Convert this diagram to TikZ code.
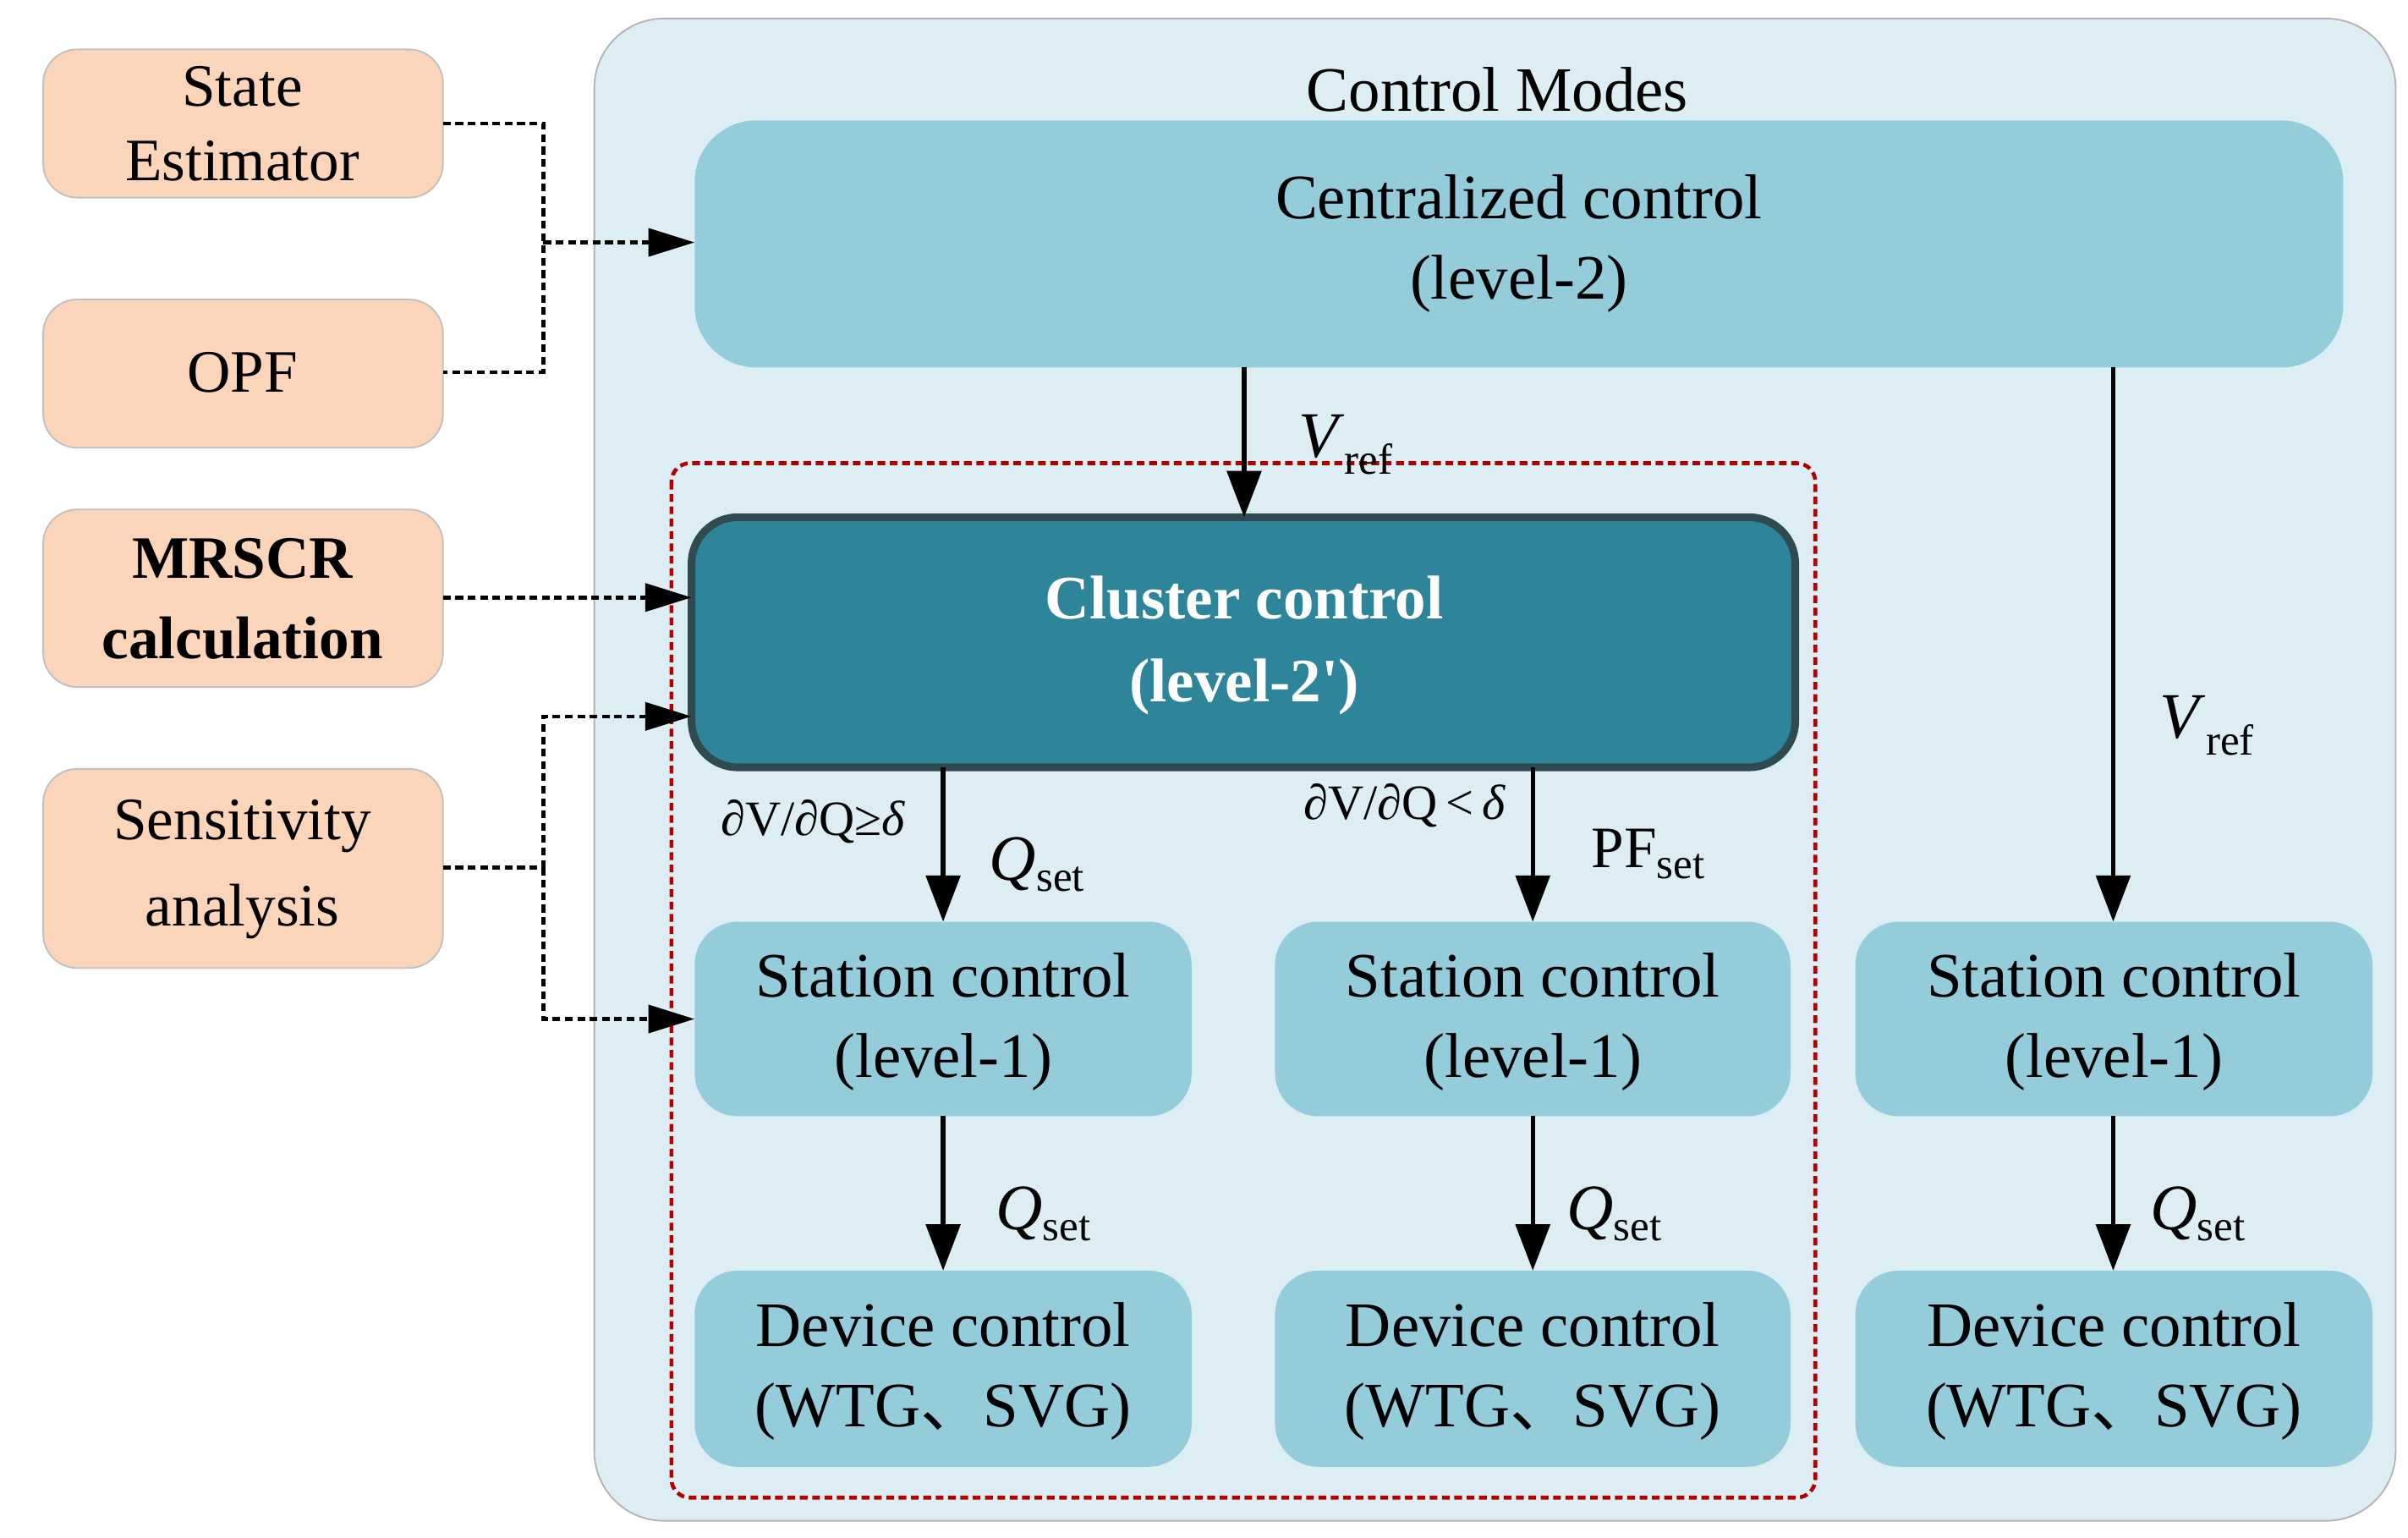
\documentclass[tikz,border=0pt]{standalone}
\usepackage{fontspec}
\setmainfont{Liberation Serif}
\newfontfamily\cjk{Noto Sans CJK SC}
\usetikzlibrary{arrows.meta}
\definecolor{outerbg}{HTML}{DCEEF3}
\definecolor{lb}{HTML}{94CCDA}
\definecolor{dk}{HTML}{2E8499}
\definecolor{dkb}{HTML}{2F4A50}
\definecolor{org}{HTML}{FBD5BA}
\newcommand{\sub}[2]{\textit{#1}\textsubscript{\fontsize{28}{30}\selectfont #2}}
\begin{document}
\begin{tikzpicture}[x=1pt,y=-1pt,
 txt/.style={font=\fontsize{41}{52}\selectfont,align=center},
 box/.style={draw=none,fill=lb,rounded corners=28pt},
 obox/.style={draw=gray!50,fill=org,rounded corners=22pt,line width=1pt},
 arr/.style={line width=3pt,-{Triangle[length=30pt,width=22pt]}},
 dot/.style={line width=2.5pt,dash pattern=on 5pt off 3pt},
 darr/.style={dot,-{Triangle[length=30pt,width=18pt]}},
 lab/.style={font=\fontsize{42}{48}\selectfont}]
\useasboundingbox (0,0) rectangle (1560,996);
\draw[fill=outerbg,draw=gray!60,line width=1pt,rounded corners=45pt] (385,12) rectangle (1552,985);
\node[txt] (cm) at (970,58) {Control Modes};
\draw[box,rounded corners=40pt] (450,78) rectangle (1518,238);
\node[txt] (cen) at (984,158) {Centralized control\\(level-2)};
\draw[red!70!black,line width=2.5pt,dash pattern=on 5pt off 3pt,rounded corners=12pt] (435,300) rectangle (1176,970);
\draw[fill=dk,draw=dkb,line width=5pt,rounded corners=30pt] (448,335) rectangle (1163,497);
\node[txt,text=white,font=\fontsize{40}{54}\selectfont\bfseries] (clu) at (806,418) {Cluster control\\(level-2\textquotesingle)};
% left boxes
\draw[obox] (28,32) rectangle (287,128);
\node[txt,font=\fontsize{39}{48}\selectfont] (se) at (157,80) {State\\Estimator};
\draw[obox] (28,194) rectangle (287,290);
\node[txt,font=\fontsize{39}{48}\selectfont] (opf) at (157,241) {OPF};
\draw[obox] (28,330) rectangle (287,445);
\node[txt,font=\fontsize{39}{52}\selectfont\bfseries] (mr) at (157,388) {MRSCR\\calculation};
\draw[obox] (28,498) rectangle (287,627);
\node[txt,font=\fontsize{39}{56}\selectfont] (sa) at (157,563) {Sensitivity\\analysis};
% stations/devices
\foreach \i/\a/\b in {1/450/772,2/826/1160,3/1202/1537}{
 \draw[box] (\a,597) rectangle (\b,723);
 \node[txt] (st\i) at ({(\a+\b)/2},662) {Station control\\(level-1)};
 \draw[box] (\a,823) rectangle (\b,950);
 \node[txt] (dv\i) at ({(\a+\b)/2},888) {Device control\\(WTG{\cjk 、}SVG)};
}
% arrows
\coordinate (c1) at (806,238); \coordinate (c2) at (806,335);
\draw[arr] (c1) -- (c2);
\node[lab] (v1) at (872,288) {\sub{V}{ref}};
\coordinate (c3) at (1369,238); \coordinate (c4) at (1369,597);
\draw[arr] (c3) -- (c4);
\node[lab] (v2) at (1430,470) {\sub{V}{ref}};
\coordinate (k1) at (611,497); \coordinate (k2) at (611,597);
\draw[arr] (k1) -- (k2);
\coordinate (k3) at (993,497); \coordinate (k4) at (993,597);
\draw[arr] (k3) -- (k4);
\node[font=\fontsize{32}{40}\selectfont] (s1) at (527,532) {∂V/∂Q≥\textit{δ}};
\node[font=\fontsize{32}{40}\selectfont] (s2) at (910,522) {∂V/∂Q\,<\,\textit{δ}};
\node[lab] (q1) at (672,560) {\sub{Q}{set}};
\node[lab,font=\fontsize{38}{48}\selectfont] (pf) at (1068,553) {PF\textsubscript{\fontsize{28}{30}\selectfont set}};
\foreach \x/\lx in {611/676,993/1046,1369/1424}{
 \coordinate (a\x) at (\x,723); \coordinate (b\x) at (\x,823);
 \draw[arr] (a\x) -- (b\x);
 \node[lab] at (\lx,786) {\sub{Q}{set}};
}
% dotted
\coordinate (j1) at (352,157); \coordinate (t1) at (450,157);
\draw[dot] (287,80) -| (j1) |- (287,241);
\draw[darr] (j1) -- (t1);
\coordinate (t2) at (448,387);
\draw[darr] (287,387) -- (t2);
\coordinate (j2) at (352,562);
\draw[dot] (287,562) -- (j2);
\draw[darr] (j2) |- (448,464);
\draw[darr] (j2) |- (450,660);
\end{tikzpicture}
\end{document}
